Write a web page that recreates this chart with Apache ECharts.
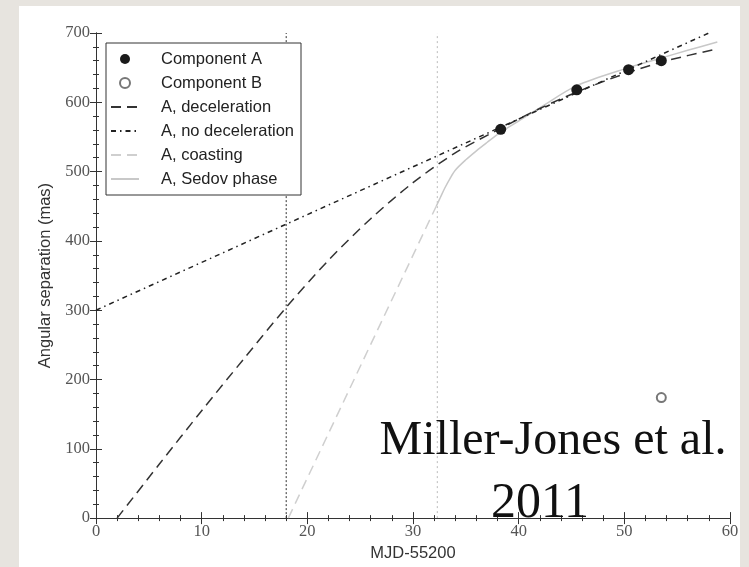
<!DOCTYPE html>
<html>
<head>
<meta charset="utf-8">
<script src="https://cdn.jsdelivr.net/npm/echarts@6/dist/echarts.min.js"></script>
<style>
  html, body { margin: 0; padding: 0; background: #e7e4df; }
  #chart { width: 749px; height: 567px; }
</style>
</head>
<body>
<div id="chart"></div>
<script>
// ---- data ----
const compA_x = [38.3, 45.5, 50.4, 53.5];
const compA_y = [561, 618, 647, 660];
const compB_x = [53.5];
const compB_y = [174];

const decel_x = [2.0, 6, 10, 14, 18, 22, 26, 30, 34, 38, 42, 46, 50, 54, 58.8];
const decel_y = [0, 78, 155, 230, 304, 372, 432, 484, 527, 560, 591, 618, 641, 660, 677];

const nodecel_x = [0, 58];
const nodecel_y = [300, 700];

const coast_x = [18.2, 32.2];
const coast_y = [0, 450];

const sedov_x = [32.2, 32.6, 33.0, 33.5, 34.0, 35.0, 36.0, 37.0, 38.2, 40, 42, 45.5, 50.4, 53.5, 56, 58.8];
const sedov_y = [450, 463, 476, 490, 502, 517, 530, 542, 556, 573, 592, 624, 650, 664, 675, 687];

const vline_dark_x = 18;
const vline_light_x = 32.3;
const yTop = 700;

const legendNames = ['Component A', 'Component B', 'A, deceleration', 'A, no deceleration', 'A, coasting', 'A, Sedov phase'];

const xTicks = { min: 0, max: 60, interval: 10 };
const yTicks = { min: 0, max: 700, interval: 100 };

function zip(xs, ys) { return xs.map((x, i) => [x, ys[i]]); }

const chart = echarts.init(document.getElementById('chart'), null, { renderer: 'canvas' });

const axisCommon = {
  axisLine: { show: true, lineStyle: { color: '#333', width: 1 } },
  axisTick: { show: true, inside: true, length: 6, lineStyle: { color: '#333', width: 1 } },
  minorTick: { show: true, splitNumber: 5, length: 3, lineStyle: { color: '#333', width: 1 } },
  splitLine: { show: false },
  minorSplitLine: { show: false }
};
const labelFont = { fontFamily: 'Liberation Serif', fontSize: 16.5, color: '#555' };
const nameFont = { fontFamily: 'Liberation Sans', fontSize: 16.5, color: '#333' };
const hiddenSymbol = { opacity: 0, color: 'rgba(0,0,0,0)', borderColor: 'rgba(0,0,0,0)' };

const option = {
  animation: false,
  backgroundColor: 'transparent',
  graphic: [
    { type: 'rect', z: -10, silent: true, shape: { x: 19, y: 6, width: 721, height: 561 }, style: { fill: '#ffffff' } },
    { type: 'text', z: 10, silent: true, style: { text: 'Miller-Jones et al.', x: 553, y: 441, textAlign: 'center', textVerticalAlign: 'middle', font: '48px "Liberation Serif"', fill: '#111' } },
    { type: 'text', z: 10, silent: true, style: { text: '2011', x: 540, y: 504, textAlign: 'center', textVerticalAlign: 'middle', font: '50px "Liberation Serif"', fill: '#111' } }
  ],
  grid: { left: 96, top: 33, width: 634, height: 494, containLabel: false },
  legend: {
    data: [
      { name: legendNames[0], icon: 'circle' },
      { name: legendNames[1], icon: 'emptyCircle' },
      { name: legendNames[2], itemStyle: hiddenSymbol },
      { name: legendNames[3], itemStyle: hiddenSymbol },
      { name: legendNames[4], itemStyle: hiddenSymbol },
      { name: legendNames[5], itemStyle: hiddenSymbol }
    ],
    orient: 'vertical',
    left: 106, top: 43,
    padding: [4, 7, 4, 4],
    itemWidth: 28, itemHeight: 10, itemGap: 0,
    backgroundColor: '#fff',
    borderColor: '#333', borderWidth: 1,
    textStyle: { fontFamily: 'Liberation Sans', fontSize: 16.5, color: '#222', lineHeight: 24, padding: [0, 0, 0, 17] },
    z: 20
  },
  xAxis: [
    Object.assign({ type: 'value', position: 'bottom', min: xTicks.min, max: xTicks.max, interval: xTicks.interval,
      name: 'MJD-55200', nameLocation: 'middle', nameGap: 23, nameTextStyle: nameFont,
      axisLabel: Object.assign({ margin: 5 }, labelFont) }, axisCommon),
    Object.assign({ type: 'value', position: 'top', min: xTicks.min, max: xTicks.max, interval: xTicks.interval,
      axisLabel: { show: false } }, axisCommon)
  ],
  yAxis: [
    Object.assign({ type: 'value', position: 'left', min: yTicks.min, max: yTicks.max, interval: yTicks.interval,
      name: 'Angular separation (mas)', nameLocation: 'middle', nameGap: 40, nameTextStyle: nameFont,
      axisLabel: Object.assign({ margin: 6 }, labelFont) }, axisCommon),
    Object.assign({ type: 'value', position: 'right', min: yTicks.min, max: yTicks.max, interval: yTicks.interval,
      axisLabel: { show: false } }, axisCommon)
  ],
  series: [
    { name: 'vline-dark', type: 'line', symbol: 'none', silent: true,
      data: [[vline_dark_x, 0], [vline_dark_x, yTop]],
      lineStyle: { color: '#333', width: 1, type: [2, 2] } },
    { name: 'vline-light', type: 'line', symbol: 'none', silent: true,
      data: [[vline_light_x, 0], [vline_light_x, yTop]],
      lineStyle: { color: '#bbb', width: 1, type: [2, 3] } },
    { name: legendNames[4], type: 'line', symbol: 'none', data: zip(coast_x, coast_y),
      lineStyle: { color: '#cfcfcf', width: 1.5, type: [10, 6] }, itemStyle: { color: '#cfcfcf' } },
    { name: legendNames[5], type: 'line', symbol: 'none', smooth: 0.3, data: zip(sedov_x, sedov_y),
      lineStyle: { color: '#c8c8c8', width: 1.5, type: 'solid' }, itemStyle: { color: '#c8c8c8' } },
    { name: legendNames[2], type: 'line', symbol: 'none', smooth: 0.3, data: zip(decel_x, decel_y),
      lineStyle: { color: '#333', width: 1.5, type: [10, 6] }, itemStyle: { color: '#333' } },
    { name: legendNames[3], type: 'line', symbol: 'none', data: zip(nodecel_x, nodecel_y),
      lineStyle: { color: '#222', width: 1.5, type: [5, 4, 1.5, 4] }, itemStyle: { color: '#222' } },
    { name: legendNames[0], type: 'scatter', symbol: 'circle', symbolSize: 11, data: zip(compA_x, compA_y),
      itemStyle: { color: '#1a1a1a', opacity: 1 }, z: 5 },
    { name: legendNames[1], type: 'scatter', symbol: 'emptyCircle', symbolSize: 9, data: zip(compB_x, compB_y),
      itemStyle: { color: '#555', borderColor: '#555', borderWidth: 1 }, z: 5 }
  ]
};
chart.setOption(option);
</script>
</body>
</html>
